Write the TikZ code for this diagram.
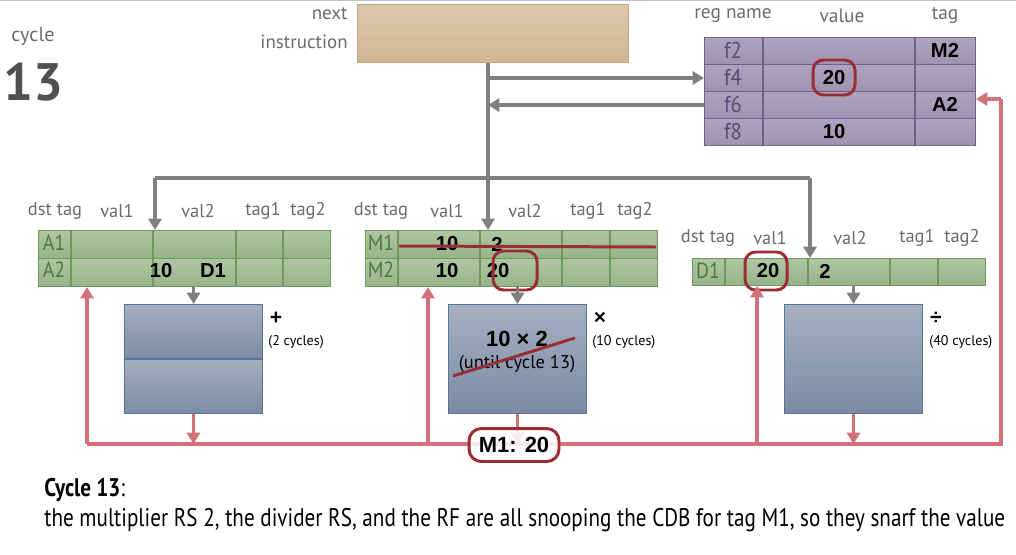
\documentclass[tikz,border=0pt]{standalone}
\usepackage{fontspec}
\setmainfont{PT Sans}
\newfontfamily\valfont{Liberation Sans}
\newfontfamily\condfont{PT Sans}[FakeStretch=0.83]
\newfontfamily\labfont{PT Sans}[FakeStretch=0.9]
\usetikzlibrary{arrows.meta}
\definecolor{hdr}{HTML}{6B6B6B}
\definecolor{rsfillT}{HTML}{AFC6A3}
\definecolor{rsfillB}{HTML}{97B389}
\definecolor{rsedge}{HTML}{6E985E}
\definecolor{rslab}{HTML}{4A7A3C}
\definecolor{rffillT}{HTML}{AEA3BF}
\definecolor{rffillB}{HTML}{9E92B0}
\definecolor{rfedge}{HTML}{6E5F8C}
\definecolor{rflab}{HTML}{5A4A78}
\definecolor{unT}{HTML}{A4AFC0}
\definecolor{unB}{HTML}{7B8BA4}
\definecolor{unedge}{HTML}{5A7593}
\definecolor{niT}{HTML}{DAC9AD}
\definecolor{niB}{HTML}{D0B593}
\definecolor{niedge}{HTML}{C9A57A}
\definecolor{arrgray}{HTML}{808080}
\definecolor{cdb}{HTML}{D2717A}
\definecolor{dkred}{HTML}{9B2D33}
\tikzset{
  hdrtxt/.style={text=hdr, font=\fontsize{10.5}{12}\selectfont, inner sep=0pt},
  rsrow/.style={draw=rsedge, line width=0.6pt, top color=rsfillT, bottom color=rsfillB, inner sep=0pt, anchor=north west},
  rfrow/.style={draw=rfedge, line width=0.6pt, top color=rffillT, bottom color=rffillB, inner sep=0pt, anchor=north west},
  unitbox/.style={draw=unedge, line width=0.6pt, top color=unT, bottom color=unB, inner sep=0pt, anchor=north west, minimum width=2.76cm},
  rslabel/.style={text=rslab, font=\labfont\fontsize{12.5}{13}\selectfont, inner sep=0pt},
  rflabel/.style={text=rflab, font=\labfont\fontsize{13}{14}\selectfont, inner sep=0pt},
  val/.style={font=\valfont\bfseries\fontsize{11.5}{13}\selectfont, inner sep=0pt},
  grayline/.style={draw=arrgray, line width=1.9pt},
  grayarr/.style={draw=arrgray, line width=1.9pt, -{Triangle[width=7.5pt,length=6.5pt]}, fill=arrgray},
  redline/.style={draw=cdb, line width=2pt},
  redarr/.style={draw=cdb, line width=2pt, -{Triangle[width=7.5pt,length=6.5pt]}, fill=cdb},
  circ/.style={draw=dkred, line width=1.7pt, rounded corners=6pt},
  strike/.style={draw=dkred, line width=1.7pt},
  small/.style={font=\fontsize{8}{9}\selectfont, inner sep=0pt},
  opsym/.style={font=\valfont\bfseries\fontsize{12}{13}\selectfont, inner sep=0pt},
}
\begin{document}
\begin{tikzpicture}[x=0.02cm,y=-0.02cm]
\useasboundingbox (0,0) rectangle (1016,554);
\fill[color={rgb,255:red,184;green,192;blue,212}] (0,0) rectangle (1016,1.5);

% cycle
\node[text=hdr, font=\fontsize{11.5}{13}\selectfont, inner sep=0pt] (cyc) at (33,37) {cycle};
\node[text={rgb,255:red,80;green,80;blue,80}, font=\bfseries\fontsize{30}{32}\selectfont, inner sep=0pt] (cycn) at (33,82) {13};

% next instruction
\node[draw=niedge, line width=0.6pt, top color=niT, bottom color=niB, inner sep=0pt, anchor=north west, minimum width=5.42cm, minimum height=1.16cm] (ni) at (357,4) {};
\node[hdrtxt, anchor=east, font=\fontsize{10.8}{12}\selectfont] (nitxt1) at (348,14) {next};
\node[hdrtxt, anchor=east, font=\fontsize{10.8}{12}\selectfont] (nitxt2) at (348,42) {instruction};

% register file
\node[hdrtxt, font=\fontsize{11}{13}\selectfont] (rfh1) at (733,16) {reg name};
\node[hdrtxt, font=\fontsize{11}{13}\selectfont] (rfh2) at (842,16) {value};
\node[hdrtxt, font=\fontsize{11}{13}\selectfont] (rfh3) at (945,16) {tag};
\node[rfrow, minimum width=5.42cm, minimum height=0.54cm] (rf1) at (704,37) {};
\node[rfrow, minimum width=5.42cm, minimum height=0.54cm] (rf2) at (704,64) {};
\node[rfrow, minimum width=5.42cm, minimum height=0.54cm] (rf3) at (704,91) {};
\node[rfrow, minimum width=5.42cm, minimum height=0.54cm] (rf4) at (704,118) {};
\draw[rfedge, line width=0.6pt] (763,37) -- (763,145) (915,37) -- (915,145);
\node[rflabel] (f2) at (733,50.5) {f2};
\node[rflabel] (f4) at (733,77.5) {f4};
\node[rflabel] (f6) at (733,104.5) {f6};
\node[rflabel] (f8) at (733,131.5) {f8};
\node[val] (rfv1) at (945,50.5) {M2};
\node[val] (rfv2) at (834,77.5) {20};
\node[val] (rfv3) at (945,104.5) {A2};
\node[val] (rfv4) at (834,131.5) {10};
\draw[circ] (813,60) rectangle (855,95);

% gray connectors
\coordinate (j1) at (488,178);
\coordinate (jl) at (155,178);
\coordinate (jr) at (810,178);
\draw[grayline] (ni.south -| j1) -- (j1);
\draw[grayarr] (j1 |- rf2.west) -- (rf2.west);
\draw[grayarr] (rf3.west) -- (j1 |- rf3.west);
\draw[grayline] (jl) -- (jr);

% RS1 adder
\node[hdrtxt] (a-h1) at (55,211) {dst tag};
\node[hdrtxt] (a-h2) at (117,211) {val1};
\node[hdrtxt] (a-h3) at (198,211) {val2};
\node[hdrtxt] (a-h4) at (263,211) {tag1};
\node[hdrtxt] (a-h5) at (308,211) {tag2};
\node[rsrow, minimum width=5.84cm, minimum height=0.56cm] (rs1a) at (38,230) {};
\node[rsrow, minimum width=5.84cm, minimum height=0.56cm] (rs1b) at (38,258) {};
\draw[rsedge, line width=0.6pt] (71,230) -- (71,286) (153,230) -- (153,286) (236,230) -- (236,286) (283,230) -- (283,286);
\node[rslabel] (A1) at (54,243) {A1};
\node[rslabel] (A2) at (54,270) {A2};
\node[val] (a2v1) at (161,271) {10};
\node[val] (a2v2) at (213,271) {D1};

% RS2 multiplier
\node[hdrtxt] (m-h1) at (381,211) {dst tag};
\node[hdrtxt] (m-h2) at (447,211) {val1};
\node[hdrtxt] (m-h3) at (525,211) {val2};
\node[hdrtxt] (m-h4) at (588,211) {tag1};
\node[hdrtxt] (m-h5) at (635,211) {tag2};
\node[rsrow, minimum width=5.84cm, minimum height=0.56cm] (rs2a) at (365,230) {};
\node[rsrow, minimum width=5.84cm, minimum height=0.56cm] (rs2b) at (365,258) {};
\draw[rsedge, line width=0.6pt] (398,230) -- (398,286) (480,230) -- (480,286) (562,230) -- (562,286) (610,230) -- (610,286);
\node[rslabel] (M1) at (381,243) {M1};
\node[rslabel] (M2) at (381,270) {M2};
\node[val] (m1v1) at (447,244) {10};
\node[val] (m1v2) at (497,244) {2};
\node[val] (m2v1) at (447,271) {10};
\node[val] (m2v2) at (498,271) {20};
\draw[strike] (399,246) -- (656,247);
\draw[circ] (493,251) rectangle (537,290);

% RS3 divider
\node[hdrtxt] (d-h1) at (708,238) {dst tag};
\node[hdrtxt] (d-h2) at (770,238) {val1};
\node[hdrtxt] (d-h3) at (850,238) {val2};
\node[hdrtxt] (d-h4) at (917,238) {tag1};
\node[hdrtxt] (d-h5) at (962,238) {tag2};
\node[rsrow, minimum width=5.86cm, minimum height=0.54cm] (rs3) at (692,258) {};
\draw[rsedge, line width=0.6pt] (725,258) -- (725,285) (808,258) -- (808,285) (890,258) -- (890,285) (938,258) -- (938,285);
\node[rslabel] (D1) at (708,270.5) {D1};
\node[val] (d1v1) at (768,271) {20};
\node[val] (d1v2) at (825,271) {2};
\draw[circ] (745,252) rectangle (787,290);

% gray arrows into RS
\draw[grayarr] (jl) -- (jl |- rs1a.north);
\draw[grayarr] (j1) -- (j1 |- rs2a.north);
\draw[grayarr] (jr) -- (jr |- rs3.north);

% units
\node[unitbox, minimum height=1.09cm] (add1) at (124,304) {};
\node[unitbox, minimum height=1.09cm] (add2) at (124,358.5) {};
\node[unitbox, minimum height=2.18cm] (mul) at (448,304) {};
\node[unitbox, minimum height=2.18cm] (div) at (784,304) {};
\node[opsym] (plus) at (276,318) {+};
\node[small, anchor=west] (plusc) at (268,342) {(2 cycles)};
\node[opsym] (times) at (600,318) {×};
\node[small, anchor=west] (timesc) at (592,342) {(10 cycles)};
\node[opsym] (divs) at (936,318) {÷};
\node[small, anchor=west] (divc) at (929,342) {(40 cycles)};
\node[font=\valfont\bfseries\fontsize{12.5}{14}\selectfont, inner sep=0pt] (mulop) at (517,339) {10 × 2};
\node[font=\fontsize{10.5}{12}\selectfont, inner sep=0pt] (mulunt) at (517,364) {(until cycle 13)};
\draw[strike] (453,376) -- (575,338);

% gray arrows RS -> units
\draw[grayarr] (add1.north |- rs1b.south) -- (add1.north);
\draw[grayarr] (mul.north |- rs2b.south) -- (mul.north);
\draw[grayarr] (div.north |- rs3.south) -- (div.north);

% CDB
\coordinate (c1) at (87,444);
\coordinate (c2) at (428,444);
\coordinate (c3) at (757,444);
\coordinate (c4) at (1001,444);
\coordinate (c5) at (1001,99);
\draw[redline] (c1) -- (c4) -- (c5);
\draw[redarr] (c5) -- (c5 -| rf3.east);
\draw[redarr] (c1) -- (c1 |- rs1b.south);
\draw[redarr] (c2) -- (c2 |- rs2b.south);
\draw[redarr] (c3) -- (c3 |- rs3.south);
\draw[redarr] (add2.south) -- (add2.south |- c1);
\draw[redarr] (mul.south) -- (mul.south |- c1);
\draw[redarr] (div.south) -- (div.south |- c1);
\node[draw=dkred, line width=1.7pt, rounded corners=7pt, fill=white, fill opacity=0.85, text opacity=1, minimum width=1.8cm, minimum height=0.66cm, inner sep=0pt, font=\valfont\bfseries\fontsize{12.5}{14}\selectfont] (cdblab) at (514,445) {M1: 20};

% description
\node[anchor=west, inner sep=0pt, font=\condfont\fontsize{14.5}{16}\selectfont] (desc1) at (44,490) {\textbf{Cycle 13}:};
\node[anchor=west, inner sep=0pt, font=\condfont\fontsize{14.5}{16}\selectfont] (desc2) at (44,520) {the multiplier RS 2, the divider RS, and the RF are all snooping the CDB for tag M1, so they snarf the value};
\end{tikzpicture}
\end{document}
